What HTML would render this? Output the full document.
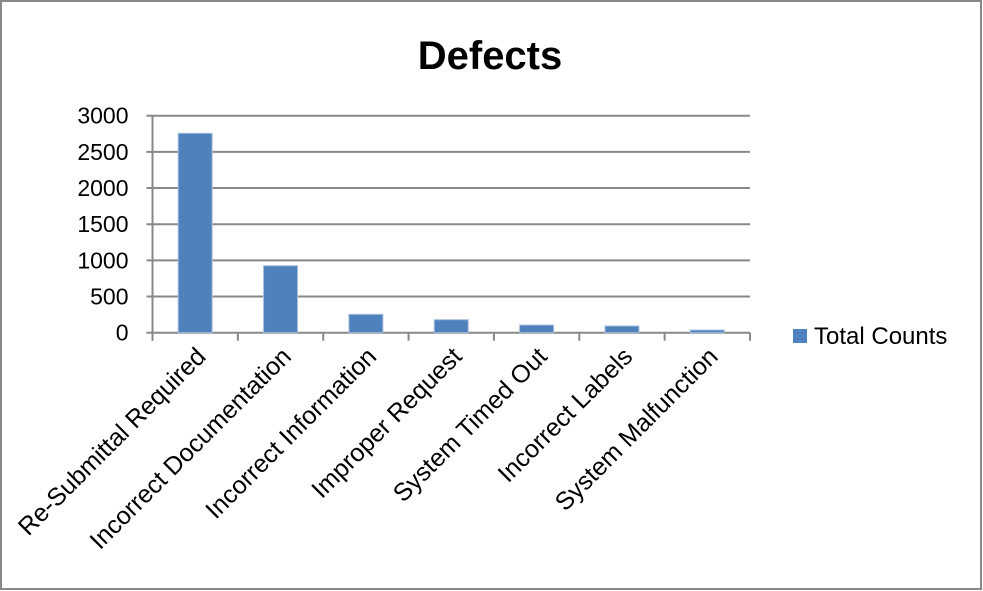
<!DOCTYPE html>
<html><head><meta charset="utf-8"><style>
html,body{margin:0;padding:0;background:#fff}
svg{display:block;font-family:"Liberation Sans",sans-serif}
</style></head><body>
<svg id="chart" width="983" height="591" viewBox="0 0 983 591">
<rect x="1" y="1" width="980" height="588" fill="#fff" stroke="#888" stroke-width="2"/>
<text x="490" y="69" text-anchor="middle" font-size="40" font-weight="bold">Defects</text>
<g id="grid"></g><g id="bars"></g><g id="axes"></g><g id="labels"></g>
<rect x="793" y="329" width="14" height="14" fill="#4f81bd"/>
<text x="814" y="344" font-size="24">Total Counts</text>
</svg>
<script>
const categories=["Re-Submittal Required","Incorrect Documentation","Incorrect Information","Improper Request","System Timed Out","Incorrect Labels","System Malfunction"];
const values=[2757,926,254,180,106,93,37];
const yTicks=[0,500,1000,1500,2000,2500,3000];
const NS="http://www.w3.org/2000/svg";
const X0=152.5,X1=750,Y0=332.7,Y1=115.7,YMAX=3000;
const bw=(X1-X0)/categories.length;
function y(v){return Y0-(v/YMAX)*(Y0-Y1);}
function xc(i){return X0+bw*(i+0.5);}
function mk(t,a,p){const e=document.createElementNS(NS,t);for(const k in a)e.setAttribute(k,a[k]);p.appendChild(e);return e;}
const grid=document.getElementById('grid'),bars=document.getElementById('bars'),axes=document.getElementById('axes'),labels=document.getElementById('labels');
yTicks.forEach(v=>{
  const l=mk('line',{x1:X0-6,x2:X1,y1:y(v),y2:y(v),stroke:'#888','stroke-width':2},grid);
  
  
  const t=mk('text',{x:X0-24,y:y(v)+8,'text-anchor':'end','font-size':23},labels);
  t.textContent=v;
  
  
});
values.forEach((v,i)=>{
  const r=mk('rect',{x:xc(i)-17,y:y(v),width:34,height:Y0-y(v),fill:'#4f81bd',stroke:'#a8c0e0','stroke-width':1},bars);
  
  
});
mk('line',{x1:X0,x2:X0,y1:Y1,y2:Y0+8,stroke:'#888','stroke-width':2},axes);
for(let i=0;i<=categories.length;i++){
  mk('line',{x1:X0+bw*i,x2:X0+bw*i,y1:Y0,y2:Y0+8,stroke:'#888','stroke-width':2},axes);
}
categories.forEach((c,i)=>{
  const ax=xc(i)+12,ay=358;
  const t=mk('text',{x:ax,y:ay,'text-anchor':'end','font-size':25,transform:`rotate(-45 ${ax} ${ay})`},labels);
  t.textContent=c;
  
  
});
</script>
</body></html>
